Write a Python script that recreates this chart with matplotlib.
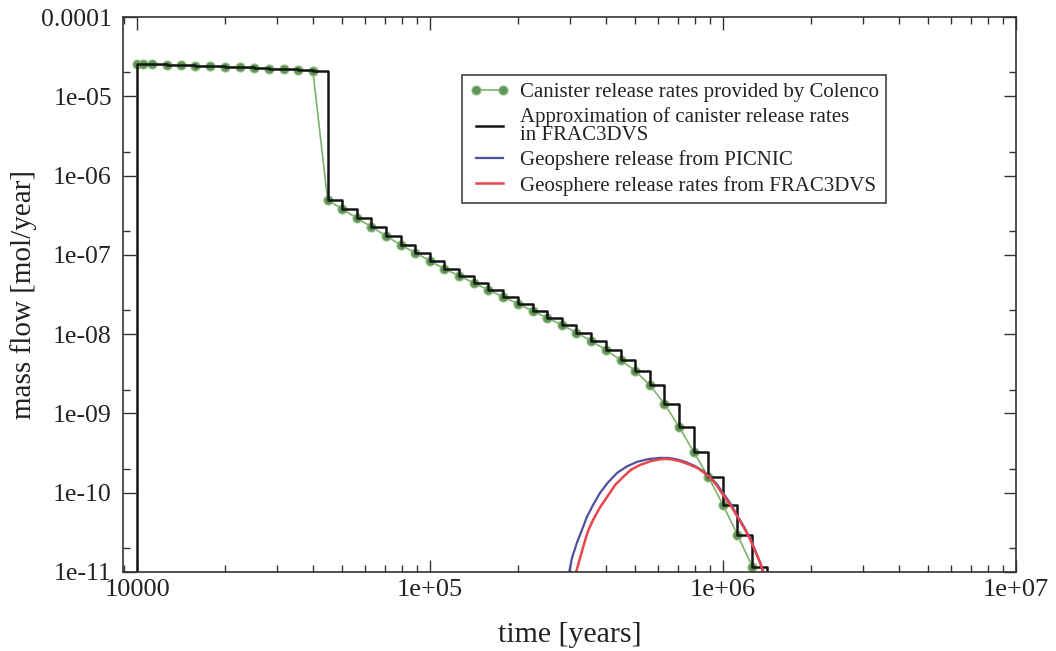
import matplotlib
matplotlib.use("Agg")
import matplotlib.pyplot as plt
import matplotlib.ticker as mticker

plt.rcParams['font.family'] = ['Liberation Serif', 'DejaVu Serif']

# canister release rates (Colenco), time in years, mass flow in mol/year
colenco_time = [10000, 10500, 11200, 12600, 14100, 15800, 17800, 20000, 22400, 25100,
                28200, 31600, 35500, 39800, 44700, 50100, 56200, 63100, 70800, 79400,
                89100, 100000, 112000, 126000, 141000, 158000, 178000, 200000, 224000,
                251000, 282000, 316000, 355000, 398000, 447000, 501000, 562000, 631000,
                708000, 794000, 891000, 1000000, 1120000, 1260000]
colenco_rate = [2.55e-5, 2.55e-5, 2.52e-5, 2.48e-5, 2.45e-5, 2.41e-5, 2.38e-5, 2.34e-5,
                2.31e-5, 2.27e-5, 2.24e-5, 2.19e-5, 2.15e-5, 2.08e-5,
                4.92e-7, 3.79e-7, 2.92e-7, 2.25e-7, 1.73e-7, 1.33e-7, 1.06e-7, 8.38e-8,
                6.64e-8, 5.42e-8, 4.42e-8, 3.61e-8, 2.94e-8, 2.40e-8, 1.96e-8, 1.60e-8,
                1.31e-8, 1.04e-8, 8.21e-9, 6.32e-9, 4.73e-9, 3.44e-9, 2.29e-9, 1.32e-9,
                6.76e-10, 3.27e-10, 1.58e-10, 7.02e-11, 2.94e-11, 1.16e-11]

# FRAC3DVS step approximation: same levels, closed at both ends
approx_time = [10000] + colenco_time + [1410000]
approx_rate = [1e-13] + colenco_rate + [1e-13]

# geosphere release, PICNIC
picnic_time = [295000, 305000, 317000, 330000, 343000, 360000, 380000, 405000, 435000,
               470000, 509000, 555000, 610000, 655000, 700000, 750000, 800000, 850000,
               900000, 950000, 1000000, 1060000, 1120000, 1180000, 1240000, 1290000,
               1340000, 1390000]
picnic_rate = [8e-12, 1.5e-11, 2.33e-11, 3.4e-11, 4.95e-11, 7e-11, 9.9e-11, 1.35e-10,
               1.78e-10, 2.15e-10, 2.45e-10, 2.65e-10, 2.75e-10, 2.74e-10, 2.62e-10,
               2.42e-10, 2.18e-10, 1.9e-10, 1.6e-10, 1.3e-10, 9.9e-11, 7.3e-11, 5.1e-11,
               3.7e-11, 2.6e-11, 1.85e-11, 1.3e-11, 8e-12]

# geosphere release, FRAC3DVS
frac_time = [310000, 333000, 345000, 360000, 380000, 402000, 428000, 456000, 485000,
             521000, 570000, 624000, 665000, 713000, 760000, 815000, 860000, 903000,
             950000, 1000000, 1060000, 1120000, 1180000, 1240000, 1290000, 1340000,
             1400000]
frac_rate = [8e-12, 2.07e-11, 3.2e-11, 4.54e-11, 6.5e-11, 8.85e-11, 1.25e-10, 1.58e-10,
             1.95e-10, 2.24e-10, 2.52e-10, 2.67e-10, 2.64e-10, 2.5e-10, 2.3e-10, 2.06e-10,
             1.8e-10, 1.54e-10, 1.25e-10, 9.38e-11, 7e-11, 4.95e-11, 3.6e-11, 2.54e-11,
             1.8e-11, 1.3e-11, 8e-12]

xticks = [1e4, 1e5, 1e6, 1e7]
xtick_labels = ['10000', '1e+05', '1e+06', '1e+07']
yticks = [1e-11, 1e-10, 1e-9, 1e-8, 1e-7, 1e-6, 1e-5, 1e-4]
ytick_labels = ['1e-11', '1e-10', '1e-09', '1e-08', '1e-07', '1e-06', '1e-05', '0.0001']

fig = plt.figure(figsize=(10.56, 6.51), dpi=100)
ax = fig.add_axes([123/1056, 1-572/651, (1016-123)/1056, (572-17)/651])

ax.plot(colenco_time, colenco_rate, '-', color='#7cb36b', linewidth=1.2,
        marker='o', markersize=6.5, markerfacecolor='#62935a', markeredgecolor='#8cc07a',
        markeredgewidth=0.8, label='Canister release rates provided by Colenco')
ax.plot(approx_time, approx_rate, color='#151515', linewidth=1.8, drawstyle='steps-post',
        label='Approximation of canister release rates\nin FRAC3DVS')
ax.plot(picnic_time, picnic_rate, color='#4f4f9e', linewidth=1.6,
        label='Geopshere release from PICNIC')
ax.plot(frac_time, frac_rate, color='#e8464c', linewidth=1.8,
        label='Geosphere release rates from FRAC3DVS')

ax.set_xscale('log')
ax.set_yscale('log')
ax.set_xlim(8950, 1e7)
ax.set_ylim(1e-11, 1e-4)

ax.xaxis.set_major_locator(mticker.FixedLocator(xticks))
ax.xaxis.set_major_formatter(mticker.FixedFormatter(xtick_labels))
ax.xaxis.set_minor_locator(mticker.LogLocator(base=10, subs=range(2, 10)))
ax.xaxis.set_minor_formatter(mticker.NullFormatter())
ax.yaxis.set_major_locator(mticker.FixedLocator(yticks))
ax.yaxis.set_major_formatter(mticker.FixedFormatter(ytick_labels))
ax.yaxis.set_minor_locator(mticker.LogLocator(base=10, subs=[2.0]))
ax.yaxis.set_minor_formatter(mticker.NullFormatter())

ax.tick_params(which='both', direction='in', top=True, right=True, color='#333333', width=1.0)
ax.tick_params(which='major', length=9)
ax.tick_params(which='minor', length=5)
ax.tick_params(axis='x', labelsize=19, pad=5, labelcolor='#222222')
ax.tick_params(axis='y', labelsize=18.5, pad=8, labelcolor='#222222')
for s in ax.spines.values():
    s.set_linewidth(1.2)
    s.set_color('#333333')

ax.set_xlabel('time [years]', fontsize=21.5, color='#222222', labelpad=15)
ax.set_ylabel('mass flow [mol/year]', fontsize=21, color='#222222', labelpad=3)

leg = ax.legend(loc='upper left', bbox_to_anchor=(0.38, 0.895), borderaxespad=0,
                fontsize=15, numpoints=2, fancybox=False, framealpha=1,
                edgecolor='#444444', handlelength=1.9, handletextpad=0.5,
                labelspacing=0.26, borderpad=0.35)
leg.get_frame().set_linewidth(1.2)
for t in leg.get_texts():
    t.set_linespacing(0.9)
    t.set_color('#222222')

fig.savefig('out.png', dpi=100)
